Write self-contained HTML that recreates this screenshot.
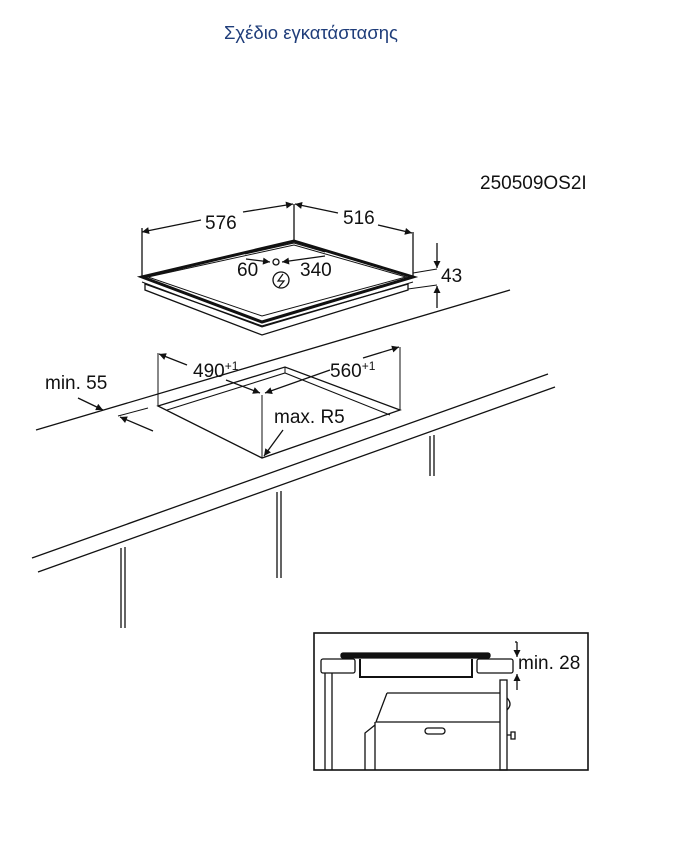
<!DOCTYPE html>
<html><head><meta charset="utf-8"><style>
html,body{margin:0;padding:0;background:#fff;width:680px;height:849px;overflow:hidden}
svg{display:block}
text{font-family:"Liberation Sans","DejaVu Sans",sans-serif}
</style></head><body>
<svg width="680" height="849" viewBox="0 0 680 849" xmlns="http://www.w3.org/2000/svg">
<defs>
<marker id="a" viewBox="0 0 10 10" refX="10" refY="5" markerWidth="9" markerHeight="7" orient="auto-start-reverse" markerUnits="userSpaceOnUse"><path d="M0,0 L10,5 L0,10 z" fill="#111"/></marker>
</defs>
<text x="311" y="39" font-size="18.5" fill="#1f3d7a" text-anchor="middle">Σχέδιο εγκατάστασης</text>
<text x="480" y="189" font-size="19" fill="#111">250509OS2I</text>

<g stroke="#111" fill="none" stroke-width="1.3">
<path d="M145,290 L145,284 L262,326 L408,284 L408,290 L262,335 Z" fill="#fff"/>
<path d="M142,277 L294,241 L413,277 L262,322 Z" fill="#fff" stroke-width="3"/>
<path d="M148,277 L294,245 L406,277 L262,316 Z" stroke-width="1"/>
<path d="M142,282 L262,327 L413,282" stroke-width="1"/>
<path d="M245,254 L294,243 L325,252" stroke-width="1"/>
<line x1="142" y1="277" x2="142" y2="228"/>
<line x1="294" y1="241" x2="294" y2="204"/>
<line x1="413" y1="277" x2="413" y2="232"/>
<line x1="201" y1="220" x2="142" y2="232" marker-end="url(#a)"/>
<line x1="243" y1="212" x2="293" y2="204" marker-end="url(#a)"/>
<line x1="338" y1="213" x2="295" y2="204" marker-end="url(#a)"/>
<line x1="378" y1="225" x2="412" y2="233" marker-end="url(#a)"/>
<line x1="246" y1="259" x2="270" y2="262" marker-end="url(#a)"/>
<line x1="325" y1="256" x2="282" y2="262" marker-end="url(#a)"/>
<circle cx="276" cy="262" r="3"/>
<circle cx="281" cy="280" r="8"/>
<path d="M283,274 L278,281 L284,281 L279,287" stroke-width="1.2"/>
<line x1="413" y1="273" x2="437" y2="269" stroke-width="1"/>
<line x1="408" y1="289" x2="437" y2="285" stroke-width="1"/>
<line x1="437" y1="243" x2="437" y2="268" marker-end="url(#a)"/>
<line x1="437" y1="308" x2="437" y2="286" marker-end="url(#a)"/>
<line x1="36" y1="430" x2="510" y2="290"/>
<line x1="32" y1="558" x2="548" y2="374"/>
<line x1="38" y1="572" x2="555" y2="387"/>
<line x1="121" y1="548" x2="121" y2="628"/><line x1="125" y1="547" x2="125" y2="628"/>
<line x1="277" y1="492" x2="277" y2="578"/><line x1="281" y1="491" x2="281" y2="578"/>
<line x1="430" y1="436" x2="430" y2="476"/><line x1="434" y1="435" x2="434" y2="476"/>
<path d="M158,406 L285,367 L400,410 L262,458 Z" fill="#fff"/>
<path d="M167,410 L285,373 L390,415" stroke-width="1.1"/>
<line x1="285" y1="367" x2="285" y2="373" stroke-width="1"/>
<line x1="262" y1="395" x2="262" y2="458" stroke-width="1"/>
<line x1="158" y1="406" x2="158" y2="353" stroke-width="1"/>
<line x1="400" y1="410" x2="400" y2="347" stroke-width="1"/>
<line x1="187" y1="365" x2="159" y2="354" marker-end="url(#a)"/>
<line x1="226" y1="380" x2="260" y2="393" marker-end="url(#a)"/>
<line x1="330" y1="370" x2="265" y2="393" marker-end="url(#a)"/>
<line x1="363" y1="358" x2="399" y2="347" marker-end="url(#a)"/>
<line x1="78" y1="398" x2="103" y2="410" marker-end="url(#a)"/>
<line x1="153" y1="431" x2="120" y2="417" marker-end="url(#a)"/>
<line x1="118" y1="416" x2="148" y2="408" stroke-width="1"/>
<line x1="283" y1="430" x2="264" y2="456" marker-end="url(#a)"/>
</g>
<g font-size="19" fill="#111">
<text x="205" y="229">576</text>
<text x="343" y="224">516</text>
<text x="237" y="276">60</text>
<text x="300" y="276">340</text>
<text x="441" y="282">43</text>
<text x="193" y="377">490<tspan font-size="12" dy="-7">+1</tspan></text>
<text x="330" y="377">560<tspan font-size="12" dy="-7">+1</tspan></text>
<text x="45" y="389">min. 55</text>
<text x="274" y="423">max. R5</text>
<text x="518" y="669">min. 28</text>
</g>
<g stroke="#111" fill="none" stroke-width="1.3">
<rect x="314" y="633" width="274" height="137" stroke-width="1.6"/>
<rect x="321" y="659" width="34" height="14" rx="2"/>
<rect x="477" y="659" width="36" height="14" rx="2"/>
<rect x="341" y="653" width="149" height="5" rx="2" fill="#111"/>
<path d="M360,659 L360,677 L472,677 L472,659" stroke-width="2"/>
<line x1="325" y1="673" x2="325" y2="770"/><line x1="332" y1="673" x2="332" y2="770"/>
<rect x="500" y="680" width="7" height="90"/>
<path d="M387,693 L500,693 M387,693 L376,722 L500,722 M375,722 L375,770 M375,725 L365,733 L365,770"/>
<rect x="425" y="728" width="20" height="6" rx="3"/>
<path d="M507,698 Q513,704 507,710"/>
<path d="M507,735 L511,735 M511,732 h4 v7 h-4 z"/>
<line x1="515" y1="642" x2="517" y2="642"/>
<line x1="517" y1="642" x2="517" y2="657" marker-end="url(#a)"/>
<line x1="517" y1="690" x2="517" y2="674" marker-end="url(#a)"/>
</g>
</svg>
</body></html>
